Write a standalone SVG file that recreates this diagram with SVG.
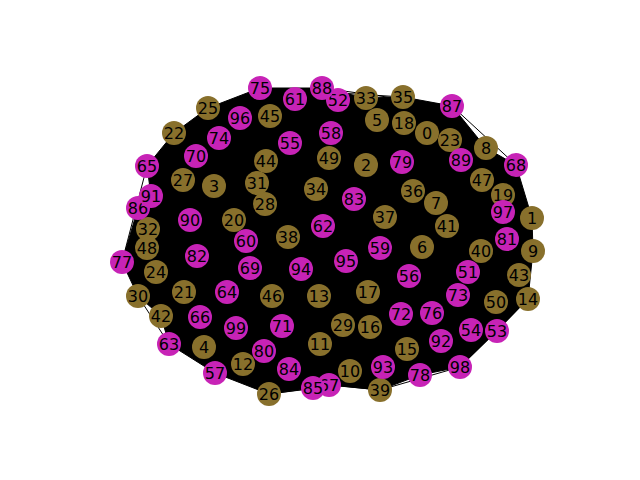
<svg xmlns="http://www.w3.org/2000/svg" width="640" height="480" viewBox="0 0 640 480">
<style>
.b{fill:#88702c}.m{fill:#c723b6}
text{font-family:"DejaVu Sans",sans-serif;font-size:16px;fill:#000;text-anchor:middle;dominant-baseline:central}
#edges line{stroke:#000;stroke-width:1}
</style>
<rect width="640" height="480" fill="#fff"/>
<g id="edges">
<polygon points="122,262 138,208 151,196 147,166 174,133 208,108 260,88 322,88 366,98 403,97 452,106 486,148 516,165 532,218 533,251 528,299 497,331 460,367 420,375 380,390 329,385 313,388 269,394 215,373 169,344 161,316 138,296" fill="#000" stroke="#000" stroke-width="1"/>
<line x1="122" y1="262" x2="147" y2="166"/><line x1="138" y1="208" x2="174" y2="133"/><line x1="147" y1="166" x2="208" y2="108"/>
<line x1="174" y1="133" x2="260" y2="88"/><line x1="208" y1="108" x2="322" y2="88"/><line x1="260" y1="88" x2="403" y2="97"/>
<line x1="322" y1="88" x2="452" y2="106"/><line x1="403" y1="97" x2="486" y2="148"/><line x1="452" y1="106" x2="516" y2="165"/>
<line x1="486" y1="148" x2="532" y2="218"/><line x1="516" y1="165" x2="533" y2="251"/><line x1="532" y1="218" x2="528" y2="299"/>
<line x1="533" y1="251" x2="497" y2="331"/><line x1="528" y1="299" x2="460" y2="367"/><line x1="497" y1="331" x2="420" y2="375"/>
<line x1="460" y1="367" x2="380" y2="390"/><line x1="420" y1="375" x2="269" y2="394"/><line x1="380" y1="390" x2="215" y2="373"/>
<line x1="269" y1="394" x2="169" y2="344"/><line x1="215" y1="373" x2="161" y2="316"/><line x1="169" y1="344" x2="138" y2="296"/>
<line x1="161" y1="316" x2="122" y2="262"/><line x1="138" y1="296" x2="138" y2="208"/>
</g>
<g id="n0"><circle class="b" cx="427" cy="133" r="12"/><text x="427" y="133">0</text></g>
<g id="n1"><circle class="b" cx="532" cy="218" r="12"/><text x="532" y="218">1</text></g>
<g id="n2"><circle class="b" cx="366" cy="165" r="12"/><text x="366" y="165">2</text></g>
<g id="n3"><circle class="b" cx="214" cy="186" r="12"/><text x="214" y="186">3</text></g>
<g id="n4"><circle class="b" cx="204" cy="347" r="12"/><text x="204" y="347">4</text></g>
<g id="n5"><circle class="b" cx="377" cy="120" r="12"/><text x="377" y="120">5</text></g>
<g id="n6"><circle class="b" cx="422" cy="247" r="12"/><text x="422" y="247">6</text></g>
<g id="n7"><circle class="b" cx="436" cy="203" r="12"/><text x="436" y="203">7</text></g>
<g id="n8"><circle class="b" cx="486" cy="148" r="12"/><text x="486" y="148">8</text></g>
<g id="n9"><circle class="b" cx="533" cy="251" r="12"/><text x="533" y="251">9</text></g>
<g id="n10"><circle class="b" cx="350" cy="371" r="12"/><text x="350" y="371">10</text></g>
<g id="n11"><circle class="b" cx="320" cy="344" r="12"/><text x="320" y="344">11</text></g>
<g id="n12"><circle class="b" cx="243" cy="364" r="12"/><text x="243" y="364">12</text></g>
<g id="n13"><circle class="b" cx="319" cy="296" r="12"/><text x="319" y="296">13</text></g>
<g id="n14"><circle class="b" cx="528" cy="299" r="12"/><text x="528" y="299">14</text></g>
<g id="n15"><circle class="b" cx="407" cy="349" r="12"/><text x="407" y="349">15</text></g>
<g id="n16"><circle class="b" cx="370" cy="327" r="12"/><text x="370" y="327">16</text></g>
<g id="n17"><circle class="b" cx="368" cy="292" r="12"/><text x="368" y="292">17</text></g>
<g id="n18"><circle class="b" cx="404" cy="123" r="12"/><text x="404" y="123">18</text></g>
<g id="n19"><circle class="b" cx="503" cy="195" r="12"/><text x="503" y="195">19</text></g>
<g id="n20"><circle class="b" cx="234" cy="220" r="12"/><text x="234" y="220">20</text></g>
<g id="n21"><circle class="b" cx="184" cy="292" r="12"/><text x="184" y="292">21</text></g>
<g id="n22"><circle class="b" cx="174" cy="133" r="12"/><text x="174" y="133">22</text></g>
<g id="n23"><circle class="b" cx="450" cy="140" r="12"/><text x="450" y="140">23</text></g>
<g id="n24"><circle class="b" cx="156" cy="272" r="12"/><text x="156" y="272">24</text></g>
<g id="n25"><circle class="b" cx="208" cy="108" r="12"/><text x="208" y="108">25</text></g>
<g id="n26"><circle class="b" cx="269" cy="394" r="12"/><text x="269" y="394">26</text></g>
<g id="n27"><circle class="b" cx="183" cy="180" r="12"/><text x="183" y="180">27</text></g>
<g id="n28"><circle class="b" cx="265" cy="204" r="12"/><text x="265" y="204">28</text></g>
<g id="n29"><circle class="b" cx="343" cy="325" r="12"/><text x="343" y="325">29</text></g>
<g id="n30"><circle class="b" cx="138" cy="296" r="12"/><text x="138" y="296">30</text></g>
<g id="n31"><circle class="b" cx="257" cy="183" r="12"/><text x="257" y="183">31</text></g>
<g id="n32"><circle class="b" cx="148" cy="229" r="12"/><text x="148" y="229">32</text></g>
<g id="n33"><circle class="b" cx="366" cy="98" r="12"/><text x="366" y="98">33</text></g>
<g id="n34"><circle class="b" cx="316" cy="189" r="12"/><text x="316" y="189">34</text></g>
<g id="n35"><circle class="b" cx="403" cy="97" r="12"/><text x="403" y="97">35</text></g>
<g id="n36"><circle class="b" cx="413" cy="191" r="12"/><text x="413" y="191">36</text></g>
<g id="n37"><circle class="b" cx="385" cy="217" r="12"/><text x="385" y="217">37</text></g>
<g id="n38"><circle class="b" cx="288" cy="237" r="12"/><text x="288" y="237">38</text></g>
<g id="n39"><circle class="b" cx="380" cy="390" r="12"/><text x="380" y="390">39</text></g>
<g id="n40"><circle class="b" cx="481" cy="251" r="12"/><text x="481" y="251">40</text></g>
<g id="n41"><circle class="b" cx="447" cy="226" r="12"/><text x="447" y="226">41</text></g>
<g id="n42"><circle class="b" cx="161" cy="316" r="12"/><text x="161" y="316">42</text></g>
<g id="n43"><circle class="b" cx="519" cy="275" r="12"/><text x="519" y="275">43</text></g>
<g id="n44"><circle class="b" cx="266" cy="161" r="12"/><text x="266" y="161">44</text></g>
<g id="n45"><circle class="b" cx="270" cy="116" r="12"/><text x="270" y="116">45</text></g>
<g id="n46"><circle class="b" cx="272" cy="296" r="12"/><text x="272" y="296">46</text></g>
<g id="n47"><circle class="b" cx="482" cy="180" r="12"/><text x="482" y="180">47</text></g>
<g id="n48"><circle class="b" cx="147" cy="248" r="12"/><text x="147" y="248">48</text></g>
<g id="n49"><circle class="b" cx="329" cy="158" r="12"/><text x="329" y="158">49</text></g>
<g id="n50"><circle class="b" cx="496" cy="302" r="12"/><text x="496" y="302">50</text></g>
<g id="n51"><circle class="m" cx="468" cy="272" r="12"/><text x="468" y="272">51</text></g>
<g id="n52"><circle class="m" cx="338" cy="100" r="12"/><text x="338" y="100">52</text></g>
<g id="n53"><circle class="m" cx="497" cy="331" r="12"/><text x="497" y="331">53</text></g>
<g id="n54"><circle class="m" cx="471" cy="330" r="12"/><text x="471" y="330">54</text></g>
<g id="n55"><circle class="m" cx="290" cy="143" r="12"/><text x="290" y="143">55</text></g>
<g id="n56"><circle class="m" cx="409" cy="276" r="12"/><text x="409" y="276">56</text></g>
<g id="n57"><circle class="m" cx="215" cy="373" r="12"/><text x="215" y="373">57</text></g>
<g id="n58"><circle class="m" cx="331" cy="133" r="12"/><text x="331" y="133">58</text></g>
<g id="n59"><circle class="m" cx="380" cy="248" r="12"/><text x="380" y="248">59</text></g>
<g id="n60"><circle class="m" cx="246" cy="241" r="12"/><text x="246" y="241">60</text></g>
<g id="n61"><circle class="m" cx="295" cy="99" r="12"/><text x="295" y="99">61</text></g>
<g id="n62"><circle class="m" cx="323" cy="226" r="12"/><text x="323" y="226">62</text></g>
<g id="n63"><circle class="m" cx="169" cy="344" r="12"/><text x="169" y="344">63</text></g>
<g id="n64"><circle class="m" cx="227" cy="292" r="12"/><text x="227" y="292">64</text></g>
<g id="n65"><circle class="m" cx="147" cy="166" r="12"/><text x="147" y="166">65</text></g>
<g id="n66"><circle class="m" cx="200" cy="317" r="12"/><text x="200" y="317">66</text></g>
<g id="n67"><circle class="m" cx="329" cy="385" r="12"/><text x="329" y="385">67</text></g>
<g id="n68"><circle class="m" cx="516" cy="165" r="12"/><text x="516" y="165">68</text></g>
<g id="n69"><circle class="m" cx="250" cy="268" r="12"/><text x="250" y="268">69</text></g>
<g id="n70"><circle class="m" cx="196" cy="156" r="12"/><text x="196" y="156">70</text></g>
<g id="n71"><circle class="m" cx="282" cy="326" r="12"/><text x="282" y="326">71</text></g>
<g id="n72"><circle class="m" cx="401" cy="314" r="12"/><text x="401" y="314">72</text></g>
<g id="n73"><circle class="m" cx="458" cy="295" r="12"/><text x="458" y="295">73</text></g>
<g id="n74"><circle class="m" cx="219" cy="138" r="12"/><text x="219" y="138">74</text></g>
<g id="n75"><circle class="m" cx="260" cy="88" r="12"/><text x="260" y="88">75</text></g>
<g id="n76"><circle class="m" cx="432" cy="313" r="12"/><text x="432" y="313">76</text></g>
<g id="n77"><circle class="m" cx="122" cy="262" r="12"/><text x="122" y="262">77</text></g>
<g id="n78"><circle class="m" cx="420" cy="375" r="12"/><text x="420" y="375">78</text></g>
<g id="n79"><circle class="m" cx="402" cy="162" r="12"/><text x="402" y="162">79</text></g>
<g id="n80"><circle class="m" cx="264" cy="351" r="12"/><text x="264" y="351">80</text></g>
<g id="n81"><circle class="m" cx="507" cy="239" r="12"/><text x="507" y="239">81</text></g>
<g id="n82"><circle class="m" cx="197" cy="256" r="12"/><text x="197" y="256">82</text></g>
<g id="n83"><circle class="m" cx="354" cy="199" r="12"/><text x="354" y="199">83</text></g>
<g id="n84"><circle class="m" cx="289" cy="369" r="12"/><text x="289" y="369">84</text></g>
<g id="n85"><circle class="m" cx="313" cy="388" r="12"/><text x="313" y="388">85</text></g>
<g id="n86"><circle class="m" cx="138" cy="208" r="12"/><text x="138" y="208">86</text></g>
<g id="n87"><circle class="m" cx="452" cy="106" r="12"/><text x="452" y="106">87</text></g>
<g id="n88"><circle class="m" cx="322" cy="88" r="12"/><text x="322" y="88">88</text></g>
<g id="n89"><circle class="m" cx="461" cy="160" r="12"/><text x="461" y="160">89</text></g>
<g id="n90"><circle class="m" cx="190" cy="220" r="12"/><text x="190" y="220">90</text></g>
<g id="n91"><circle class="m" cx="151" cy="196" r="12"/><text x="151" y="196">91</text></g>
<g id="n92"><circle class="m" cx="441" cy="341" r="12"/><text x="441" y="341">92</text></g>
<g id="n93"><circle class="m" cx="383" cy="367" r="12"/><text x="383" y="367">93</text></g>
<g id="n94"><circle class="m" cx="301" cy="269" r="12"/><text x="301" y="269">94</text></g>
<g id="n95"><circle class="m" cx="346" cy="261" r="12"/><text x="346" y="261">95</text></g>
<g id="n96"><circle class="m" cx="240" cy="118" r="12"/><text x="240" y="118">96</text></g>
<g id="n97"><circle class="m" cx="503" cy="212" r="12"/><text x="503" y="212">97</text></g>
<g id="n98"><circle class="m" cx="460" cy="367" r="12"/><text x="460" y="367">98</text></g>
<g id="n99"><circle class="m" cx="236" cy="328" r="12"/><text x="236" y="328">99</text></g>
</svg>
